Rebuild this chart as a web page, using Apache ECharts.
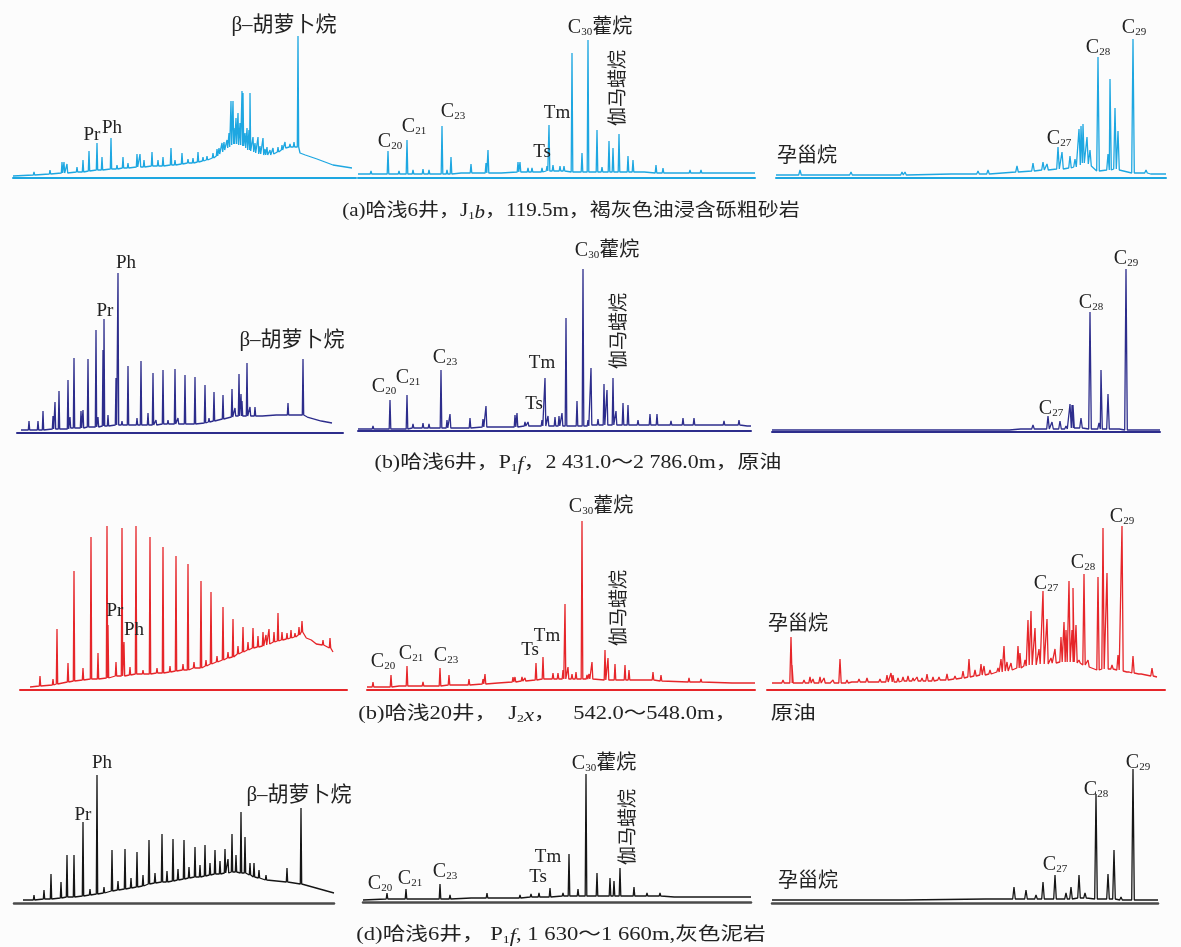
<!DOCTYPE html>
<html><head><meta charset="utf-8">
<script src="https://cdn.jsdelivr.net/npm/echarts@6/dist/echarts.min.js"></script>
<style>html,body{margin:0;padding:0;background:#fcfcfc}#c{width:1181px;height:947px}</style>
</head><body><div id="c"></div>
<script>
// ---- DATA: each peak is [retention, baseline abundance, peak-top abundance] ----
const a1Peaks=[[0,2,2],[21,3,6],[37,4,8],[49,5,16],[51,5,16],[54,5,14],[64,6,11],[70,6,18],[76,7,27],[84,8,35],[89,8,21],[98,9,40],[104,9,13],[110,10,21],[115,10,15],[124,11,24],[127,11,24],[131,11,18],[139,12,26],[145,12,18],[150,12,21],[158,13,30],[162,13,18],[169,14,25],[175,15,19],[180,15,20],[185,16,26],[190,17,21],[194,18,22],[200,20,25],[204,22,29],[206,24,30],[209,26,35],[211,28,36],[214,30,38],[216,31,45],[218,33,77],[220,34,77],[221,34,50],[223,34,60],[225,33,65],[227,33,55],[229,32,87],[230,32,85],[232,30,45],[234,28,50],[236,28,48],[237,27,85],[240,26,41],[242,25,35],[245,24,41],[247,24,32],[250,23,40],[252,23,29],[254,23,31],[257,23,28],[260,24,30],[265,26,31],[269,28,33],[272,30,36],[277,31,34],[281,31,36],[285,31,142],[287,25,25],[293,23,25],[304,19,19],[320,13,13],[339,10,10]];
const a2Peaks=[[0,4,4],[13,4,7],[30,4,27],[41,4,7],[49,4,38],[55,4,8],[65,4,9],[71,4,8],[84,4,52],[89,4,8],[93,4,21],[104,5,7],[113,5,14],[128,5,15],[130,5,28],[144,5,7],[160,6,16],[162,6,16],[170,6,10],[174,6,10],[184,6,10],[189,7,12],[191,7,53],[195,7,13],[202,7,12],[206,7,12],[214,6,125],[224,6,25],[230,6,138],[239,6,48],[244,6,11],[251,6,37],[255,6,30],[261,6,44],[270,6,22],[275,6,18],[287,6,7],[298,5,13],[305,5,10],[332,5,8],[343,5,8],[373,5,7],[389,5,6],[397,5,5]];
const a3Peaks=[[0,3,3],[24,3,8],[75,3,6],[109,3,4],[126,3,6],[129,3,6],[177,4,5],[202,4,7],[212,4,8],[241,6,12],[257,7,15],[267,8,16],[271,8,14],[282,9,31],[286,9,26],[294,10,22],[299,11,19],[303,13,49],[305,15,52],[307,15,54],[311,14,41],[314,12,28],[322,7,121],[332,8,24],[334,8,99],[339,9,70],[342,8,47],[357,5,139],[370,5,8],[376,4,6],[387,4,5],[390,4,4]];
const b1Peaks=[[4,3,3],[12,3,12],[21,3,12],[26,3,22],[36,4,17],[38,4,31],[42,4,42],[51,4,53],[53,5,16],[57,5,75],[64,5,22],[66,5,23],[71,6,74],[79,6,103],[81,6,16],[86,7,83],[87,7,114],[91,7,18],[99,8,55],[101,8,160],[105,8,12],[111,8,67],[120,8,15],[124,8,72],[131,8,20],[136,8,60],[139,8,13],[146,9,63],[151,9,13],[158,9,64],[161,9,15],[168,9,58],[178,9,56],[188,10,48],[192,11,15],[197,12,41],[206,14,38],[215,16,44],[218,17,25],[222,17,59],[224,17,39],[225,17,32],[230,17,70],[233,17,26],[238,17,26],[246,17,18],[260,18,19],[271,18,30],[286,18,74],[291,16,17],[305,12,13],[315,10,10]];
const b2Peaks=[[0,2,2],[15,2,5],[32,2,31],[40,2,3],[49,2,36],[55,3,7],[65,3,8],[71,3,7],[83,3,61],[89,3,11],[92,3,17],[102,3,5],[112,3,13],[125,4,12],[128,4,25],[137,4,5],[142,4,5],[157,4,16],[159,4,18],[167,5,9],[170,5,9],[184,5,11],[187,5,53],[190,5,15],[197,5,14],[201,5,15],[204,5,18],[208,5,113],[219,5,30],[225,5,162],[230,5,11],[233,6,63],[240,6,12],[246,6,47],[249,6,41],[255,6,53],[258,6,20],[265,6,28],[270,6,26],[280,6,11],[292,6,17],[299,6,17],[313,6,10],[325,6,13],[336,6,13],[345,6,7],[354,6,7],[366,6,10],[381,6,11],[390,5,7],[393,5,5]];
const b3Peaks=[[0,2,2],[19,2,3],[69,2,2],[122,2,3],[206,2,3],[236,2,3],[250,3,4],[261,3,7],[264,3,5],[276,3,16],[280,3,10],[288,3,11],[294,3,6],[298,4,28],[300,4,27],[301,4,27],[309,4,14],[318,3,120],[327,3,9],[329,3,62],[336,3,38],[346,3,4],[354,2,163],[370,2,3],[386,2,2],[388,2,2]];
const c1Peaks=[[10,3,3],[20,4,14],[33,5,11],[37,6,61],[48,8,27],[54,9,119],[63,10,22],[71,11,153],[78,11,37],[87,12,164],[88,12,65],[96,14,28],[102,14,162],[104,14,48],[110,15,23],[116,16,164],[123,16,20],[130,16,153],[137,17,22],[143,17,143],[150,18,24],[156,19,134],[163,20,26],[168,20,126],[174,22,28],[181,22,109],[186,24,30],[191,26,98],[197,28,34],[203,30,83],[208,32,38],[213,33,71],[218,36,44],[223,38,63],[228,40,48],[233,42,62],[238,43,54],[243,44,58],[246,45,55],[249,46,61],[254,48,58],[258,49,77],[262,50,58],[267,51,57],[271,52,60],[275,53,57],[279,55,63],[282,58,69],[287,52,53],[292,50,52],[297,46,48],[303,45,50],[310,42,52],[313,38,38]];
const c2Peaks=[[0,3,3],[6,3,8],[24,3,15],[33,4,5],[40,4,24],[46,4,5],[56,4,8],[73,4,22],[82,5,15],[93,5,6],[102,5,11],[116,6,11],[118,6,16],[131,7,7],[146,8,13],[148,8,13],[155,9,13],[158,9,12],[169,10,27],[176,11,33],[186,11,17],[191,11,17],[196,11,20],[198,11,86],[201,11,23],[205,11,16],[209,11,18],[215,11,169],[220,11,15],[222,11,16],[225,11,28],[238,10,40],[241,10,32],[248,10,26],[258,10,25],[262,10,20],[273,10,10],[286,10,18],[294,9,15],[322,8,12],[334,8,11],[366,7,9],[383,7,8],[388,7,7]];
const c3Peaks=[[5,7,7],[9,7,9],[16,7,10],[24,7,53],[25,7,25],[31,7,9],[37,7,10],[43,7,13],[46,7,11],[53,7,13],[57,7,12],[62,7,9],[66,7,10],[73,7,31],[80,7,10],[86,8,9],[92,8,11],[100,8,12],[108,8,10],[113,8,11],[120,8,15],[124,8,17],[126,8,15],[131,8,12],[136,9,13],[141,9,14],[146,9,12],[150,9,13],[155,9,12],[160,9,16],[166,9,13],[172,10,13],[180,10,16],[188,11,14],[196,12,19],[202,13,31],[208,14,20],[214,15,26],[217,15,24],[223,16,20],[231,18,22],[234,18,31],[237,19,44],[240,19,28],[244,20,27],[251,22,44],[253,22,37],[258,24,30],[261,25,70],[264,25,79],[268,25,62],[272,26,41],[276,26,99],[280,26,71],[284,27,32],[288,27,41],[294,28,53],[297,28,68],[299,28,60],[302,28,109],[305,28,60],[306,28,102],[309,27,65],[312,27,30],[317,25,116],[321,23,30],[331,20,113],[336,21,162],[340,21,117],[345,21,25],[351,20,35],[355,19,164],[361,18,20],[366,17,34],[373,16,18],[385,14,22],[390,13,13]];
const d1Peaks=[[9,3,3],[20,3,8],[30,4,13],[37,4,29],[47,5,21],[53,6,48],[60,6,48],[69,7,81],[76,8,14],[83,9,128],[90,10,16],[98,12,53],[104,13,22],[111,14,54],[117,15,25],[123,16,51],[129,17,28],[135,19,63],[141,20,30],[148,21,69],[153,21,32],[159,22,64],[164,23,34],[170,24,63],[175,25,36],[181,26,56],[186,26,38],[191,27,58],[196,28,40],[201,29,53],[206,29,42],[211,30,54],[214,30,44],[218,31,69],[222,31,48],[227,30,91],[231,30,66],[236,28,40],[240,26,40],[245,25,33],[252,23,28],[273,21,35],[287,19,95],[289,17,17],[320,10,10]];
const d2Peaks=[[0,2,2],[24,3,9],[43,3,13],[77,3,18],[87,3,7],[109,4,5],[124,4,9],[157,4,7],[168,5,8],[176,5,9],[187,5,14],[200,6,9],[206,6,48],[215,6,13],[223,6,128],[234,6,29],[247,6,24],[251,6,21],[257,6,34],[271,6,15],[284,6,9],[297,6,9],[312,5,7],[343,5,6],[373,5,5],[388,5,5]];
const d3Peaks=[[0,3,3],[25,3,5],[131,3,4],[214,4,4],[242,4,16],[254,4,13],[264,4,8],[271,4,21],[283,4,28],[294,4,10],[299,4,16],[307,5,28],[313,5,10],[324,4,109],[336,4,29],[342,4,53],[349,3,6],[361,3,134],[374,3,4],[386,3,3]];

// ---- TEXT ----
const peakNames={beta:'β–胡萝卜烷',preg:'孕甾烷',gam:'伽马蜡烷',Pr:'Pr',Ph:'Ph',Tm:'Tm',Ts:'Ts',C20:'20',C21:'21',C23:'23',C27:'27',C28:'28',C29:'29',C30:'30'};
const captionTexts=[
 '(a)哈浅6井，J{sb|1}{it|b}，119.5m，褐灰色油浸含砾粗砂岩',
 '(b)哈浅6井，P{sb|1}{it|f}，2 431.0～2 786.0m，原油',
 '(b)哈浅20井，  J{sb|2}{it|x}，   542.0～548.0m，      原油',
 '(d)哈浅6井， P{sb|1}{it|f}, 1 630～1 660m,灰色泥岩'
];

// ---- LAYOUT / STYLE ----
const F="'Liberation Serif','Noto Sans CJK SC',serif";
const rowColors=['#1ea7e1','#2d2d8c','#e6262a','#161616'];
const layout=[
 {p:a1Peaks,left:13,width:343,axisY:178,row:0,w:0.7,labels:[['beta',271,153],['Pr',79,43],['Ph',99,50]]},
 {p:a2Peaks,left:358,width:397,axisY:178,row:0,w:0.8,labels:[['C20',32,38],['C21',56,53],['C23',95,68],['Tm',199,65],['Ts',184,26],['C30',242,152],['gam',261,90]]},
 {p:a3Peaks,left:776,width:390,axisY:178,row:0,w:1.3,labels:[['preg',31,21],['C27',283,41],['C28',322,132],['C29',358,152]]},
 {p:b1Peaks,left:17,width:326,axisY:433,row:1,w:0.7,labels:[['Ph',109,170],['Pr',88,122],['beta',275,93]]},
 {p:b2Peaks,left:358,width:393,axisY:431,row:1,w:0.8,labels:[['C20',26,46],['C21',50,55],['C23',87,75],['Tm',184,68],['Ts',176,27],['C30',249,182],['gam',262,100]]},
 {p:b3Peaks,left:772,width:388,axisY:432,row:1,w:1.3,labels:[['C27',279,25],['C28',319,131],['C29',354,175]]},
 {p:c1Peaks,left:20,width:327,axisY:690,row:2,w:0.7,labels:[['Pr',95,79],['Ph',114,60]]},
 {p:c2Peaks,left:367,width:388,axisY:690,row:2,w:0.8,labels:[['C20',16,30],['C21',44,38],['C23',79,36],['Ts',163,40],['Tm',180,54],['C30',234,185],['gam',253,82]]},
 {p:c3Peaks,left:767,width:398,axisY:690,row:2,w:1.2,labels:[['preg',31,65],['C27',279,108],['C28',316,129],['C29',355,175]]},
 {p:d1Peaks,left:14,width:320,axisY:903,row:3,w:0.7,labels:[['Ph',88,140],['Pr',69,88],['beta',285,108]]},
 {p:d2Peaks,left:363,width:388,axisY:902,row:3,w:0.8,labels:[['C20',17,20],['C21',47,25],['C23',82,32],['Tm',185,45],['Ts',175,25],['C30',241,140],['gam',266,75]]},
 {p:d3Peaks,left:772,width:386,axisY:903,row:3,w:1.3,labels:[['preg',36,21],['C27',283,40],['C28',324,115],['C29',366,142]]}
];
const captionPos=[[571,211],[578,463],[587,714],[561,935]];
const captionScale=[1.166,1.216,1.25,1.258];

function toLine(peaks,w){
  const pts=[];
  peaks.forEach(([x,b,t])=>{
    if(t<=b) pts.push([x,b]);
    else pts.push([x-w,b],[x,t],[x+w,b]);
  });
  return pts;
}
const richC={
  cc:{fontFamily:F,fontSize:20,color:'#222',lineHeight:24,verticalAlign:'bottom'},
  ss:{fontFamily:F,fontSize:11,color:'#222',lineHeight:12,verticalAlign:'bottom'},
  zz:{fontFamily:F,fontSize:20,color:'#222',lineHeight:24,verticalAlign:'bottom'}
};
function labelItem(key,x,y){
  const name=peakNames[key];
  let fmt, extra={};
  if(key[0]==='C'){
    fmt = key==='C30' ? '{cc|C}{ss|'+name+'}{zz|藿烷}' : '{cc|C}{ss|'+name+'}';
  } else {
    fmt = name;
    extra.fontSize = key==='beta' ? 21 : (key==='preg' ? 20 : 19);
    if(key==='gam'){extra.rotate=90; extra.fontSize=19;}
  }
  return {coord:[x,y],label:Object.assign({formatter:()=>fmt,rich:richC},extra)};
}

const grids=[],xAxes=[],yAxes=[],series=[];
layout.forEach((L,i)=>{
  const H=L.row===0?175:195;
  const col=rowColors[L.row];
  grids.push({left:L.left,top:L.axisY-H,width:L.width,height:H});
  xAxes.push({type:'value',gridIndex:i,min:0,max:L.width,show:true,
    axisLine:{show:true,onZero:false,lineStyle:{color:L.row===3?'#4a4a4a':col,width:L.row===3?2.5:2}},
    axisTick:{show:false},axisLabel:{show:false},splitLine:{show:false}});
  yAxes.push({type:'value',gridIndex:i,min:0,max:H,show:false});
  series.push({type:'line',xAxisIndex:i,yAxisIndex:i,data:toLine(L.p,L.w),
    showSymbol:false,symbol:'none',silent:true,animation:false,clip:false,
    lineStyle:{color:col,width:1.3},
    markPoint:{symbol:'rect',symbolSize:1,silent:true,animation:false,
      itemStyle:{color:'rgba(0,0,0,0)'},
      label:{show:true,position:'inside',color:'#222',fontFamily:F,fontSize:19},
      data:L.labels.map(l=>labelItem(l[0],l[1],l[2]))}
  });
});

const capRich={
  sb:{fontFamily:F,fontSize:11,fill:'#222',verticalAlign:'bottom',lineHeight:12},
  it:{fontFamily:F,fontSize:18,fontStyle:'italic',fill:'#222',verticalAlign:'bottom',lineHeight:22}
};
const graphic=captionTexts.map((t,i)=>({
  type:'text',x:captionPos[i][0],y:captionPos[i][1],scaleX:captionScale[i],silent:true,
  style:{text:t,fontFamily:F,fontSize:18,fill:'#222',align:'center',verticalAlign:'middle',
    textAlign:'center',textVerticalAlign:'middle',rich:capRich}
}));

const chart=echarts.init(document.getElementById('c'));
chart.setOption({backgroundColor:'#fcfcfc',animation:false,grid:grids,xAxis:xAxes,yAxis:yAxes,series:series,graphic:graphic});
</script></body></html>
